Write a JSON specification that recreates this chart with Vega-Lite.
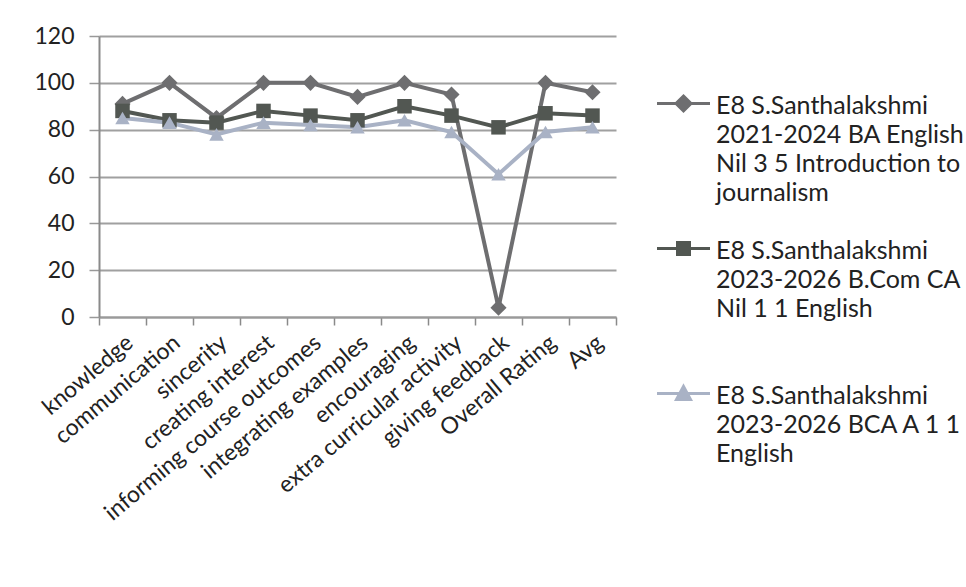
{
  "$schema": "https://vega.github.io/schema/vega-lite/v6.json",
  "width": 517,
  "height": 281,
  "autosize": {"type": "none"},
  "padding": {"left": 99, "top": 36, "right": 350, "bottom": 270},
  "background": "white",
  "config": {
    "font": "Lato",
    "view": {"stroke": null},
    "axis": {"labelFont": "Lato", "labelColor": "#222222"}
  },
  "data": {
    "values": [
      {"criterion": "knowledge", "series": "E8 S.Santhalakshmi 2021-2024 BA English Nil 3 5 Introduction to journalism", "score": 91},
      {"criterion": "communication", "series": "E8 S.Santhalakshmi 2021-2024 BA English Nil 3 5 Introduction to journalism", "score": 100},
      {"criterion": "sincerity", "series": "E8 S.Santhalakshmi 2021-2024 BA English Nil 3 5 Introduction to journalism", "score": 85},
      {"criterion": "creating interest", "series": "E8 S.Santhalakshmi 2021-2024 BA English Nil 3 5 Introduction to journalism", "score": 100},
      {"criterion": "informing course outcomes", "series": "E8 S.Santhalakshmi 2021-2024 BA English Nil 3 5 Introduction to journalism", "score": 100},
      {"criterion": "integrating examples", "series": "E8 S.Santhalakshmi 2021-2024 BA English Nil 3 5 Introduction to journalism", "score": 94},
      {"criterion": "encouraging", "series": "E8 S.Santhalakshmi 2021-2024 BA English Nil 3 5 Introduction to journalism", "score": 100},
      {"criterion": "extra curricular activity", "series": "E8 S.Santhalakshmi 2021-2024 BA English Nil 3 5 Introduction to journalism", "score": 95},
      {"criterion": "giving feedback", "series": "E8 S.Santhalakshmi 2021-2024 BA English Nil 3 5 Introduction to journalism", "score": 4},
      {"criterion": "Overall Rating", "series": "E8 S.Santhalakshmi 2021-2024 BA English Nil 3 5 Introduction to journalism", "score": 100},
      {"criterion": "Avg", "series": "E8 S.Santhalakshmi 2021-2024 BA English Nil 3 5 Introduction to journalism", "score": 96},
      {"criterion": "knowledge", "series": "E8 S.Santhalakshmi 2023-2026 B.Com CA Nil 1 1 English", "score": 88},
      {"criterion": "communication", "series": "E8 S.Santhalakshmi 2023-2026 B.Com CA Nil 1 1 English", "score": 84},
      {"criterion": "sincerity", "series": "E8 S.Santhalakshmi 2023-2026 B.Com CA Nil 1 1 English", "score": 83},
      {"criterion": "creating interest", "series": "E8 S.Santhalakshmi 2023-2026 B.Com CA Nil 1 1 English", "score": 88},
      {"criterion": "informing course outcomes", "series": "E8 S.Santhalakshmi 2023-2026 B.Com CA Nil 1 1 English", "score": 86},
      {"criterion": "integrating examples", "series": "E8 S.Santhalakshmi 2023-2026 B.Com CA Nil 1 1 English", "score": 84},
      {"criterion": "encouraging", "series": "E8 S.Santhalakshmi 2023-2026 B.Com CA Nil 1 1 English", "score": 90},
      {"criterion": "extra curricular activity", "series": "E8 S.Santhalakshmi 2023-2026 B.Com CA Nil 1 1 English", "score": 86},
      {"criterion": "giving feedback", "series": "E8 S.Santhalakshmi 2023-2026 B.Com CA Nil 1 1 English", "score": 81},
      {"criterion": "Overall Rating", "series": "E8 S.Santhalakshmi 2023-2026 B.Com CA Nil 1 1 English", "score": 87},
      {"criterion": "Avg", "series": "E8 S.Santhalakshmi 2023-2026 B.Com CA Nil 1 1 English", "score": 86},
      {"criterion": "knowledge", "series": "E8 S.Santhalakshmi 2023-2026 BCA A 1 1 English", "score": 85},
      {"criterion": "communication", "series": "E8 S.Santhalakshmi 2023-2026 BCA A 1 1 English", "score": 83},
      {"criterion": "sincerity", "series": "E8 S.Santhalakshmi 2023-2026 BCA A 1 1 English", "score": 78},
      {"criterion": "creating interest", "series": "E8 S.Santhalakshmi 2023-2026 BCA A 1 1 English", "score": 83},
      {"criterion": "informing course outcomes", "series": "E8 S.Santhalakshmi 2023-2026 BCA A 1 1 English", "score": 82},
      {"criterion": "integrating examples", "series": "E8 S.Santhalakshmi 2023-2026 BCA A 1 1 English", "score": 81},
      {"criterion": "encouraging", "series": "E8 S.Santhalakshmi 2023-2026 BCA A 1 1 English", "score": 84},
      {"criterion": "extra curricular activity", "series": "E8 S.Santhalakshmi 2023-2026 BCA A 1 1 English", "score": 79},
      {"criterion": "giving feedback", "series": "E8 S.Santhalakshmi 2023-2026 BCA A 1 1 English", "score": 61},
      {"criterion": "Overall Rating", "series": "E8 S.Santhalakshmi 2023-2026 BCA A 1 1 English", "score": 79},
      {"criterion": "Avg", "series": "E8 S.Santhalakshmi 2023-2026 BCA A 1 1 English", "score": 81}
    ]
  },
  "encoding": {
    "x": {
      "field": "criterion",
      "type": "nominal",
      "sort": null,
      "bandPosition": 0.5,
      "scale": {"type": "band", "paddingInner": 0, "paddingOuter": 0},
      "axis": {
        "title": null,
        "tickBand": "extent",
        "labelAngle": -40,
        "labelFontSize": 23,
        "labelPadding": 6,
        "labelLimit": 400,
        "tickSize": 8,
        "tickColor": "#8a8a8a",
        "tickWidth": 1.5,
        "domainColor": "#9a9a9a",
        "domainWidth": 2,
        "grid": false
      }
    },
    "y": {
      "field": "score",
      "type": "quantitative",
      "scale": {"domain": [0, 120], "nice": false},
      "axis": {
        "title": null,
        "values": [0, 20, 40, 60, 80, 100, 120],
        "labelFontSize": 23,
        "labelPadding": 15,
        "tickSize": 10,
        "tickColor": "#999999",
        "tickWidth": 1.5,
        "domainColor": "#8a8a8a",
        "domainWidth": 2,
        "grid": true,
        "gridColor": "#a0a0a0",
        "gridWidth": 1.8
      }
    },
    "color": {
      "field": "series",
      "type": "nominal",
      "scale": {
        "domain": [
          "E8 S.Santhalakshmi 2021-2024 BA English Nil 3 5 Introduction to journalism",
          "E8 S.Santhalakshmi 2023-2026 B.Com CA Nil 1 1 English",
          "E8 S.Santhalakshmi 2023-2026 BCA A 1 1 English"
        ],
        "range": ["#6e6e70", "#525752", "#a9b2c5"]
      },
      "legend": {
        "title": null,
        "orient": "none",
        "legendX": 572,
        "legendY": 45,
        "direction": "vertical",
        "gridAlign": "all",
        "rowPadding": 20,
        "padding": 0,
        "symbolSize": 400,
        "symbolOffset": 0,
        "symbolStrokeWidth": 3,
        "symbolOpacity": 1,
        "labelOffset": 20,
        "labelFontSize": 25,
        "labelColor": "#222222",
        "labelBaseline": "top",
        "labelLimit": 400,
        "labelExpr": "datum.label == 'E8 S.Santhalakshmi 2021-2024 BA English Nil 3 5 Introduction to journalism' ? ['E8 S.Santhalakshmi', '2021-2024 BA English', 'Nil 3 5 Introduction to', 'journalism'] : datum.label == 'E8 S.Santhalakshmi 2023-2026 B.Com CA Nil 1 1 English' ? ['E8 S.Santhalakshmi', '2023-2026 B.Com CA', 'Nil 1 1 English'] : ['E8 S.Santhalakshmi', '2023-2026 BCA A 1 1', 'English']",
        "encoding": {
          "labels": {"lineHeight": {"value": 29}}
        }
      }
    }
  },
  "layer": [
    {
      "mark": {"type": "line", "strokeWidth": 4}
    },
    {
      "transform": [{"filter": "datum.series == 'E8 S.Santhalakshmi 2021-2024 BA English Nil 3 5 Introduction to journalism'"}],
      "mark": {"type": "point", "filled": true, "opacity": 1, "shape": "diamond", "size": 260}
    },
    {
      "transform": [{"filter": "datum.series == 'E8 S.Santhalakshmi 2023-2026 B.Com CA Nil 1 1 English'"}],
      "mark": {"type": "point", "filled": true, "opacity": 1, "shape": "square", "size": 210}
    },
    {
      "transform": [{"filter": "datum.series == 'E8 S.Santhalakshmi 2023-2026 BCA A 1 1 English'"}],
      "mark": {"type": "point", "filled": true, "opacity": 1, "shape": "triangle-up", "size": 210}
    },
    {
      "mark": {"type": "point", "filled": true, "opacity": 0},
      "encoding": {
        "shape": {
          "field": "series",
          "type": "nominal",
          "scale": {
            "domain": [
              "E8 S.Santhalakshmi 2021-2024 BA English Nil 3 5 Introduction to journalism",
              "E8 S.Santhalakshmi 2023-2026 B.Com CA Nil 1 1 English",
              "E8 S.Santhalakshmi 2023-2026 BCA A 1 1 English"
            ],
            "range": [
              "M-2.65,1.0H2.65M0,0.25L0.75,1.0L0,1.75L-0.75,1.0Z",
              "M-2.65,1.0H2.65M-0.6,0.4H0.6V1.6H-0.6Z",
              "M-2.65,1.0H2.65M0,0.3L0.7,1.6L-0.7,1.6Z"
            ]
          }
        }
      }
    }
  ]
}
